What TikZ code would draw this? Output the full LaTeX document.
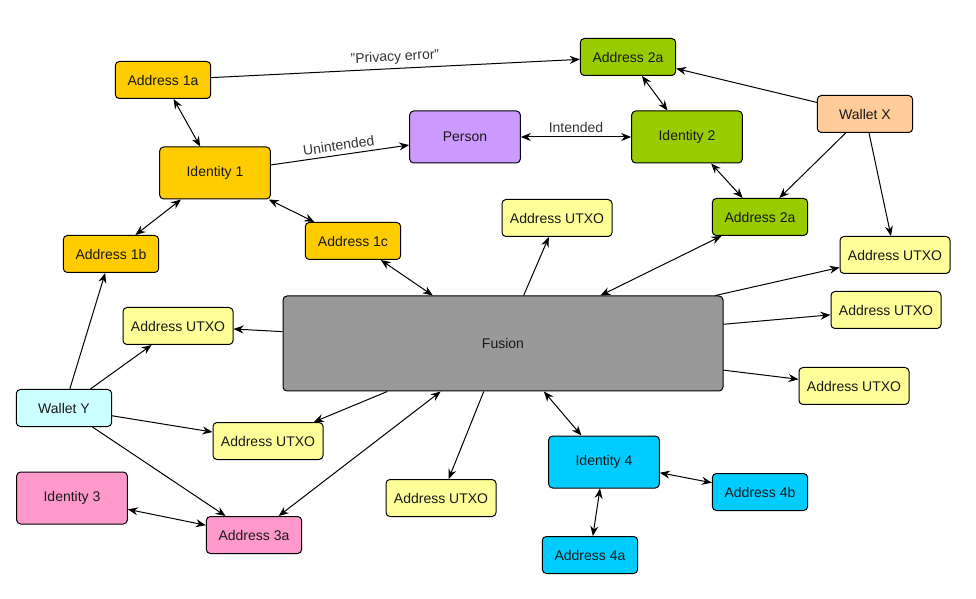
\documentclass[tikz,border=0pt]{standalone}
\usepackage{fontspec}
\setmainfont{Liberation Sans}
\usetikzlibrary{arrows.meta}
\definecolor{cOrange}{HTML}{FFCC00}
\definecolor{cGreen}{HTML}{99CC00}
\definecolor{cPurple}{HTML}{CC99FF}
\definecolor{cPeach}{HTML}{FFCC99}
\definecolor{cYellow}{HTML}{FFFF99}
\definecolor{cCyan}{HTML}{CCFFFF}
\definecolor{cPink}{HTML}{FF99CC}
\definecolor{cBlue}{HTML}{00CCFF}
\definecolor{cGray}{HTML}{999999}
\begin{document}
\begin{tikzpicture}[x=0.75pt,y=-0.75pt,
  box/.style={draw=black, line width=0.75pt, rounded corners=3pt, inner sep=0pt,
    font=\fontsize{10.5}{12}\selectfont, text=black!90},
  small/.style={box, minimum width=71.5pt, minimum height=27.75pt},
  utxo/.style={box, fill=cYellow, minimum width=82.5pt, minimum height=27.75pt},
  large/.style={box, minimum width=83pt, minimum height=39pt},
  conn/.style={line width=0.75pt, -{Stealth[length=7.5pt,width=6pt,inset=2.5pt]}},
  bconn/.style={line width=0.75pt, {Stealth[length=7.5pt,width=6pt,inset=2.5pt]}-{Stealth[length=7.5pt,width=6pt,inset=2.5pt]}},
  elabel/.style={font=\fontsize{10.5}{12}\selectfont, text=black!80, inner sep=3pt}
]
\useasboundingbox (0,0) rectangle (976,599);

% nodes
\node[small, fill=cOrange] (a1a) at (163,80) {Address 1a};
\node[small, fill=cGreen] (a2top) at (628,57) {Address 2a};
\node[small, fill=cPeach] (wx) at (865,114) {Wallet X};
\node[large, fill=cGreen] (id2) at (687,137) {Identity 2};
\node[large, fill=cPurple] (person) at (465,137) {Person};
\node[large, fill=cOrange] (id1) at (215,173) {Identity 1};
\node[small, fill=cGreen] (a2low) at (760,217) {Address 2a};
\node[utxo] (utm) at (557,218) {Address UTXO};
\node[utxo] (ur1) at (895,255) {Address UTXO};
\node[small, fill=cOrange] (a1c) at (353,241) {Address 1c};
\node[small, fill=cOrange] (a1b) at (111,254) {Address 1b};
\node[box, fill=cGray, minimum width=330pt, minimum height=71.25pt] (fus) at (503,343.5) {Fusion};
\node[utxo] (ur2) at (886,310) {Address UTXO};
\node[utxo] (ur3) at (854,386) {Address UTXO};
\node[utxo] (ul) at (178,326) {Address UTXO};
\node[small, fill=cCyan] (wy) at (64,408) {Wallet Y};
\node[utxo] (ubl) at (268,441) {Address UTXO};
\node[large, fill=cPink] (id3) at (72,498) {Identity 3};
\node[small, fill=cPink] (a3a) at (254,535) {Address 3a};
\node[utxo] (ubm) at (441,498) {Address UTXO};
\node[large, fill=cBlue] (id4) at (604,462) {Identity 4};
\node[small, fill=cBlue] (a4b) at (760,492) {Address 4b};
\node[small, fill=cBlue] (a4a) at (590,555) {Address 4a};

% connectors
\draw[conn] (a1a) -- node[elabel, sloped, above] {"Privacy error"} (a2top);
\draw[bconn] (a1a) -- (id1);
\draw[conn] (id1) -- node[elabel, sloped, above] {Unintended} (person);
\draw[bconn] (person) -- node[elabel, above] {Intended} (id2);
\draw[bconn] (a2top) -- (id2);
\draw[conn] (wx) -- (a2top);
\draw[conn] (wx) -- (a2low);
\draw[conn] (wx) -- (ur1);
\draw[bconn] (id2) -- (a2low);
\draw[bconn] (id1) -- (a1b);
\draw[bconn] (id1) -- (a1c);
\draw[bconn] (a1c) -- (fus);
\draw[conn] (fus) -- (utm);
\draw[bconn] (fus) -- (a2low);
\draw[conn] (fus) -- (ur1);
\draw[conn] (fus) -- (ur2);
\draw[conn] (fus) -- (ur3);
\draw[conn] (fus) -- (ul);
\draw[conn] (wy) -- (a1b);
\draw[conn] (wy) -- (ul);
\draw[conn] (wy) -- (ubl);
\draw[conn] (wy) -- (a3a);
\draw[conn] (fus) -- (ubl);
\draw[bconn] (fus) -- (a3a);
\draw[conn] (fus) -- (ubm);
\draw[bconn] (fus) -- (id4);
\draw[bconn] (id3) -- (a3a);
\draw[bconn] (id4) -- (a4b);
\draw[bconn] (id4) -- (a4a);
\end{tikzpicture}
\end{document}
